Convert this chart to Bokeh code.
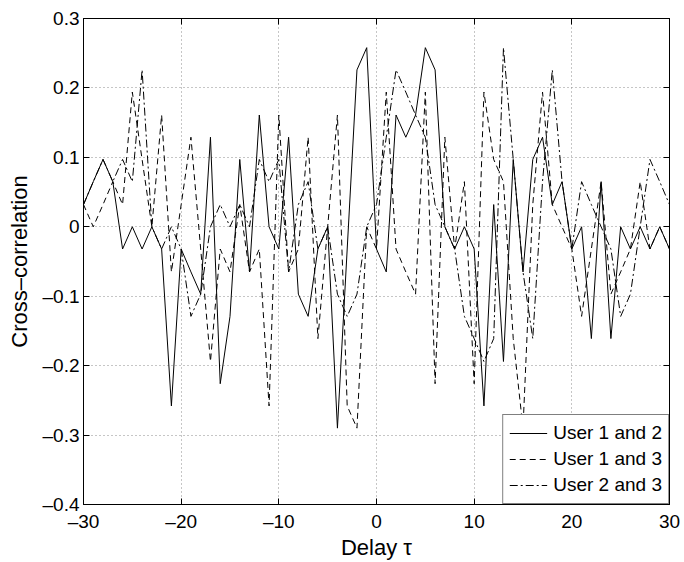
from bokeh.plotting import figure
from bokeh.models import Legend, LegendItem, LinearAxis, FixedTicker, Range1d, CustomJSTickFormatter
from bokeh.embed import file_html
from bokeh.resources import INLINE

# Delay values
delay = list(range(-30, 31))

# Cross-correlation, User 1 and 2
user12 = [0.032, 0.065, 0.097, 0.065, -0.032, 0, -0.032, 0, -0.032, -0.258,
          -0.032, -0.065, -0.097, 0.129, -0.226, -0.129, 0.097, -0.065, 0.161, 0,
          -0.032, 0.129, -0.097, -0.129, -0.032, 0, -0.290, -0.032, 0.226, 0.258,
          -0.032, -0.065, 0.161, 0.129, 0.161, 0.258, 0.226, 0, -0.032, 0,
          -0.032, -0.258, 0.032, -0.194, 0.097, -0.065, 0.097, 0.129, 0.032, 0.065,
          -0.032, 0, -0.161, 0.065, -0.161, 0, -0.032, 0, -0.032, 0, -0.032]

# Cross-correlation, User 1 and 3
user13 = [0.032, 0, 0.032, 0.065, 0.032, 0.194, 0.097, 0, 0.161, -0.065,
          0.032, 0.129, -0.032, -0.194, -0.032, -0.065, 0.032, -0.065, -0.032, -0.258,
          0.161, -0.065, -0.032, 0.129, -0.161, 0, 0.161, -0.258, -0.290, 0,
          -0.032, 0.194, -0.032, -0.065, -0.097, 0.194, -0.226, 0.129, -0.032, 0.065,
          -0.226, 0.194, 0.097, 0.065, -0.161, -0.290, 0.032, 0.194, 0.032, 0,
          -0.032, -0.129, -0.032, 0.065, -0.097, -0.065, -0.032, 0.065, -0.032, 0, -0.032]

# Cross-correlation, User 2 and 3
user23 = [0.032, 0.065, 0.097, 0.065, 0.097, 0.065, 0.226, 0, -0.032, 0,
          -0.032, -0.129, -0.097, 0, 0.032, 0, 0.032, 0, 0.097, 0.065,
          0.097, -0.065, 0.032, 0.065, -0.032, 0, -0.097, -0.129, -0.097, 0,
          0.032, 0.129, 0.226, 0.194, 0.161, 0.129, 0.032, 0, -0.032, -0.129,
          -0.161, -0.194, -0.161, 0.258, 0.097, -0.065, -0.161, 0.065, 0.226, 0.065,
          -0.032, 0.065, 0.032, 0, -0.032, -0.129, -0.097, 0, 0.097, 0.065, 0.032]

x_ticks = [-30, -20, -10, 0, 10, 20, 30]
y_ticks = [-0.4, -0.3, -0.2, -0.1, 0, 0.1, 0.2, 0.3]
series_labels = ["User 1 and 2", "User 1 and 3", "User 2 and 3"]
x_title = "Delay \u03c4"
y_title = "Cross\u2013correlation"

FONT = "Liberation Sans"

p = figure(width=684, height=562, output_backend="svg", toolbar_location=None,
           x_range=Range1d(-30, 30), y_range=Range1d(-0.4, 0.3),
           min_border_left=83, min_border_right=15, min_border_top=18,
           min_border_bottom=54)
p.background_fill_color = "white"
p.border_fill_color = "white"
p.outline_line_color = "black"
p.outline_line_width = 1

xfmt = CustomJSTickFormatter(code="""
if (Math.abs(tick) < 1e-9) return "0";
return tick.toFixed(0).replace("-", "\u2013");
""")
yfmt = CustomJSTickFormatter(code="""
if (Math.abs(tick) < 1e-9) return "0";
return tick.toFixed(1).replace("-", "\u2013");
""")

for ax, tk, fm in ((p.xaxis[0], x_ticks, xfmt), (p.yaxis[0], y_ticks, yfmt)):
    ax.ticker = FixedTicker(ticks=tk)
    ax.formatter = fm
    ax.major_tick_in = 6
    ax.major_tick_out = 0
    ax.minor_tick_line_color = None
    ax.axis_line_color = "black"
    ax.major_tick_line_color = "black"
    ax.major_label_text_font = FONT
    ax.major_label_text_font_size = "19px"
    ax.major_label_text_color = "black"
    ax.axis_label_text_font = FONT
    ax.axis_label_text_font_size = "22px"
    ax.axis_label_text_font_style = "normal"
    ax.axis_label_text_color = "black"

p.xaxis.axis_label = x_title
p.yaxis.axis_label = y_title
p.xaxis.major_label_standoff = 6
p.yaxis.major_label_standoff = 4
p.xaxis.axis_label_standoff = 0
p.yaxis.axis_label_standoff = 8

for tk, side in ((x_ticks, "above"), (y_ticks, "right")):
    ax = LinearAxis(ticker=FixedTicker(ticks=tk), major_tick_in=6, major_tick_out=0,
                    minor_tick_line_color=None, major_label_text_font_size="1px",
                    major_label_text_color=None, major_label_standoff=0,
                    axis_line_color="black")
    p.add_layout(ax, side)

p.xgrid.ticker = FixedTicker(ticks=x_ticks)
p.ygrid.ticker = FixedTicker(ticks=y_ticks)
for g in (p.xgrid, p.ygrid):
    g.grid_line_color = "#8c8c8c"
    g.grid_line_dash = "1 3"
    g.grid_line_width = 1

r1 = p.line(delay, user12, line_color="black", line_width=1)
r2 = p.line(delay, user13, line_color="black", line_width=1, line_dash="6 4")
r3 = p.line(delay, user23, line_color="black", line_width=1, line_dash="8 3 2 3")

legend = Legend(items=[LegendItem(label=series_labels[0], renderers=[r1]),
                       LegendItem(label=series_labels[1], renderers=[r2]),
                       LegendItem(label=series_labels[2], renderers=[r3])],
                location="bottom_right", margin=0, padding=6, spacing=2,
                glyph_width=38, glyph_height=24, label_standoff=6,
                label_text_font=FONT, label_text_font_size="19px",
                label_text_color="black",
                border_line_color="black", border_line_width=1,
                background_fill_color="white", background_fill_alpha=1)
p.add_layout(legend, "center")

open("out.html", "w").write(file_html(p, INLINE))
